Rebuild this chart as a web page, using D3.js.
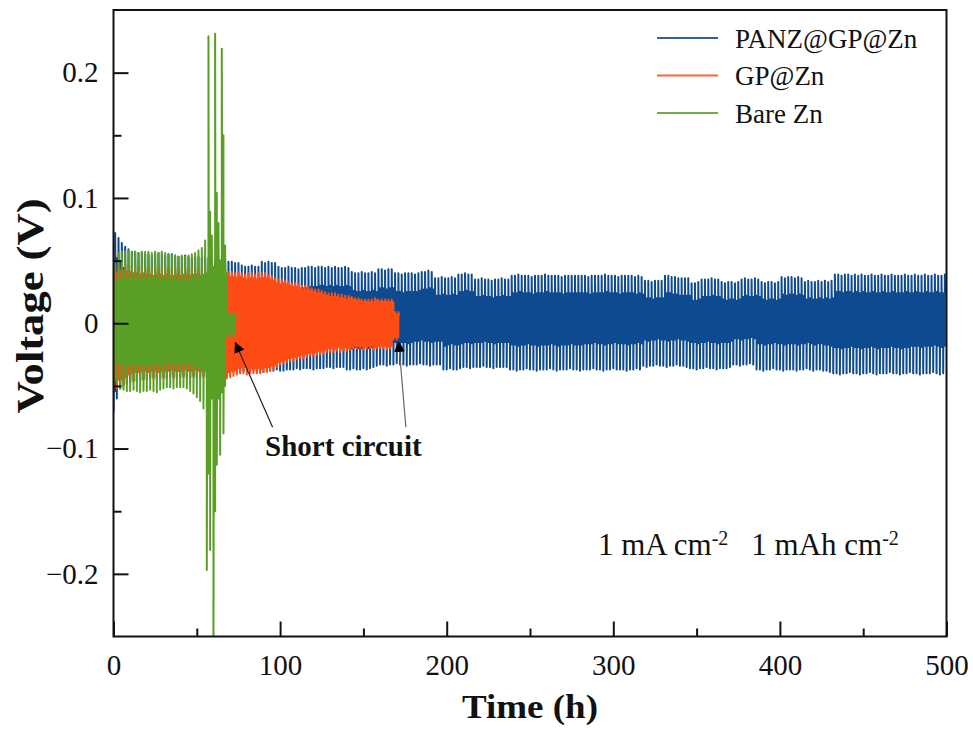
<!DOCTYPE html>
<html>
<head>
<meta charset="utf-8">
<script src="https://cdn.jsdelivr.net/npm/d3@7"></script>
<style>
  html, body { margin: 0; padding: 0; background: #fff; }
  svg { display: block; }
  svg text { font-family: "Times New Roman", "Liberation Serif", Tinos, "Nimbus Roman", "DejaVu Serif", serif; }
</style>
</head>
<body>
<svg id="chart" width="973" height="730"></svg>
<script>
// Galvanostatic cycling of symmetric Zn cells, 1 mA cm-2 / 1 mAh cm-2 (one cycle = 2 h)
const cycleHours = 2;
const seriesNames = ["PANZ@GP@Zn", "GP@Zn", "Bare Zn"];
const seriesColors = ["#0d4a8f", "#ff4c14", "#5a9f25"];
const xTicks = [0, 100, 200, 300, 400, 500];
const xMinorTicks = [50, 150, 250, 350, 450];
const yTicks = [-0.2, -0.1, 0, 0.1, 0.2];
const yMinorTicks = [-0.15, -0.05, 0.05, 0.15];

// PANZ@GP@Zn: stripping (high) and plating (low) peak voltage of every cycle, mV
const panzHigh = [
  72,68,64,61,59,57,57,56,56,55, 55,54,55,56,55,54,55,55,54,53,
  53,54,53,52,53,53,52,53,52,51, 51,50,51,50,49, 49,48,48,
  46,45,45,46,45,45, 49,48,49,48,48, 45,44,44,45,44,44,43,44,44,
  45,45,44,45,45,44,45,44,45,44,44,45,44, 41,40,40,41,40,40,41,40,
  43,43,42,43,43, 40,40,39,40,40,40,39,40, 41,41,42,41,
  36,36,37,36,36,37,36, 39,39,40,39,39, 35,35,36,35,35,34,35,35,36,35,35,
  38,38,39,38,38,38,37,38,38,38, 39,38,38,38,38,37,38,38,38,38,
  38,38,38,37,38,38,38,38,39,38, 38,38,37,38,38,38,38,37,38,37,
  34,34,33,34,34,34, 38,38,37,37,36,36,36,36, 32,32,33, 35,35,35,36,35,35,
  33,32,33,33,32,33, 35,36,35,35,36,35, 33,32,33,33,32,33,
  37,36,37,37,36,37,36, 33,34,33,33,34,33,34,33,34, 39,39,38,39,39,38,39,
  38,39,38,38,39,38,38,39,38,38, 39,38,38,38,39,38,38,39,38,38, 39,38,38,39,38,38,39
];
const panzLow = [
  -70,-60,-52,-49,-48,-47,-46,-46,-45,-45,
  -44,-44,-43,-44,-43,-43,-44,-43,-43,-42, -43,-42,-42,-43,-42,-42,-41,-42,-42,-41, -42,-41,-41,-41,-40,
  -40,-39,-39,-39,-38,-39,-39,-38,-39,-38,-39,-38,-38,-38,-37,-38,-38,-37,-37,-37,-36,-37,-36,
  -36,-36,-37,-36,-36,-36,
  -35,-35,-36,-35,-35,-35,-37,-37,-36,-37,-37,-36,-37,-36,-35,-34,
  -33,-33,-34,-33,-33,-32,-33,-33,-34,-33,-33,-33,-32,-33,-33,-34,-33,-33,-33,
  -37,-37,-36,-37,-37,-36,
  -35,-35,-36,-35,-35,-35,-34,-35,-35,-36,-35,-35,-35,-35,
  -37,-37,-38,-37,-37,-36,-37,-37,-38,-37, -37,-37,-36,-37,-38,-37,-37,-37,-36,-37,
  -37,-38,-37,-37,-37,-36,-37,-37,-38,-37, -37,-36,-37,-37,-37,-38,-37,-37,-36,-37,
  -34,-35,-34,-34,-33,-34,-34,-35,-34,-34,-33,-34,-34,-35,
  -36,-36,-37,-36,-36,-35,-36,-36,-37,-36,-36,-36,-35,
  -33,-33,-34,-33,-33,-32,-33,
  -37,-37,-38,-37,-37,-36,-37,-37,-38,-37,-37,-37,-38,-37,-37,-36,-37,-38,-37,-37,-38,-38,
  -39,-40,-40,-41,-40,-40,-39,-40,-40,-41, -40,-40,-39,-40,-41,-40,-40,-40,-39,-40,
  -40,-41,-40,-40,-39,-40,-40,-41,-40,-40, -40,-39,-40,-41,-40
];
// nucleation overshoot above the plateau, one value per 20 h block, mV
const panzSpikeHigh = [20,18,18,18,17, 16,15,15,15,14, 14,14,14,14,14, 14,14,14,14,14, 14,14,14,14,14];
const panzSpikeLow  = [16,14,14,14,15, 16,16,17,18,19, 20,20,20,20,21, 21,21,21,21,21, 21,21,21,21,22];

// GP@Zn peak voltages per cycle, mV (short circuit near 172 h)
const gpHigh = [
  46,48,48,47,47,46,46,45,46,45, 45,44,45,45,44,45,44,44,45,44,
  44,44,43,44,44,43,44,43,43,42, 42,43,42,42,
  41,41,40,41,40,39,40,40,39,40, 40,40,39,38,
  36,35,35,34,33,32,32,31,30,30,29,
  28,27,27,26,25,24,24,24,23,23,22,22,
  21,20,20,19,19,19,19,20,19,19,19,19,19,
  9,9
];
const gpLow = [
  -52,-52,-51,-50,-48,-47,-46,-46,-45,-45, -45,-44,-44,-45,-44,-44,-44,-43,-44,-44,
  -44,-43,-44,-44,-43,-44,-44,-43,-44,-44, -44,-45,-44,-45,
  -44,-43,-42,-41,-40,-40,-41,-40,-40,-40, -40,-39,-39,-38,
  -37,-35,-33,-32,-31,-30,-30,-29,-28,-28,-27,
  -26,-26,-25,-25,-24,-23,-23,-23,-22,-23,-22,-22,
  -21,-20,-20,-20,-21,-20,-20,-21,-20,-20,-20,-21,-20,
  -13,-13
];
const gpSpikeHigh = [6,6,5,4,4,3,3,2,2];
const gpSpikeLow  = [7,6,6,5,4,3,3,2,2];

// Bare Zn: peaks and plateaus per cycle, mV (voltage spikes before short circuit near 72 h)
const bareHigh = [
  48,56,57,57,58,57,57,56,57,57, 57,56,57,56,57,56,55,54,54,53,
  54,53,54,55,56,58, 60,66,229,70,231,80,219,62, 8,8,8
];
const bareHighPlateau = [
  33,35,36,36,36,36,36,35,36,36, 36,35,36,35,36,35,35,34,34,34,
  34,34,35,35,36,37, 38,40,89,45,104,50,150,40, 6,6,6
];
const bareLow = [
  -46,-48,-52,-53,-54,-54,-53,-54,-55,-54, -54,-53,-54,-55,-53,-52,-51,-51,-52,-51,
  -51,-51,-52,-54,-56,-59, -62,-68,-197,-181,-280,-113,-105,-88, -11,-11,-11
];
const bareLowPlateau = [
  -30,-31,-32,-32,-33,-33,-32,-33,-33,-33, -33,-32,-33,-33,-32,-32,-31,-31,-32,-31,
  -31,-31,-32,-33,-34,-35, -36,-38,-120,-60,-150,-60,-55,-50, -8,-8,-8
];

// Figure annotations (data coordinates: h, V)
const shortLabel = { t: 91, v: -0.106, text: "Short circuit" };
const shortArrows = [
  { from: [95.5, -0.083], to: [73.2, -0.0155], color: "#222" },
  { from: [175.5, -0.083], to: [171.2, -0.0150], color: "#666" }
];
const conditionLabel = { t: 290.8, v: -0.185 };

// ---------- layout ----------
const svg = d3.select("#chart");
const plot = { left: 113.5, right: 946.5, top: 10, bottom: 636.5 };
const x = d3.scaleLinear().domain([0, 500]).range([plot.left, plot.right]);
const y = d3.scaleLinear().domain([-0.25, 0.25]).range([plot.bottom, plot.top]);

const defs = svg.append("defs");
defs.append("clipPath").attr("id", "plotClip")
  .append("rect")
  .attr("x", plot.left).attr("y", plot.top)
  .attr("width", plot.right - plot.left).attr("height", plot.bottom - plot.top);

// Expand per-cycle values into a voltage–time trace:
// plating half (negative) followed by stripping half (positive) in each cycle.
function cycleTrace(high, low, highPlateau, lowPlateau) {
  const pts = [];
  for (let k = 0; k < high.length; k++) {
    const t0 = k * cycleHours;
    pts.push([t0, k > 0 ? highPlateau[k - 1] : 0]);
    pts.push([t0, low[k]]);
    pts.push([t0 + 0.12, lowPlateau[k]]);
    pts.push([t0 + 1, lowPlateau[k]]);
    pts.push([t0 + 1, high[k]]);
    pts.push([t0 + 1.12, highPlateau[k]]);
    pts.push([t0 + 2, highPlateau[k]]);
  }
  return pts.map(p => [p[0], p[1] / 1000]);
}
const blockPlateau = (peaks, spikes, sign) =>
  peaks.map((p, k) => p - sign * spikes[Math.floor(k / 10)]);

const traces = [
  cycleTrace(panzHigh, panzLow,
    blockPlateau(panzHigh, panzSpikeHigh, 1), blockPlateau(panzLow, panzSpikeLow, -1)),
  cycleTrace(gpHigh, gpLow,
    blockPlateau(gpHigh, gpSpikeHigh, 1), blockPlateau(gpLow, gpSpikeLow, -1)),
  cycleTrace(bareHigh, bareLow, bareHighPlateau, bareLowPlateau)
];

const line = d3.line().x(d => x(d[0])).y(d => y(d[1]));
const traceGroup = svg.append("g").attr("clip-path", "url(#plotClip)");
traces.forEach((pts, i) => {
  traceGroup.append("path")
    .attr("d", line(pts))
    .attr("fill", "none")
    .attr("stroke", seriesColors[i])
    .attr("stroke-width", 2)
    .attr("stroke-linejoin", "round");
});

// ---------- axes ----------
const fmtY = d => d === 0 ? "0" : (d < 0 ? "\u2212" : "") + Math.abs(d).toFixed(1);
const axisFont = g => {
  g.attr("font-family", null);
  g.selectAll("text").attr("font-size", 29).attr("fill", "#111");
};

const xAxis = svg.append("g").attr("transform", `translate(0,${plot.bottom})`)
  .call(d3.axisBottom(x).tickValues(xTicks).tickFormat(d3.format("d"))
    .tickSize(-15).tickPadding(18));
xAxis.call(axisFont);
svg.append("g").attr("transform", `translate(0,${plot.bottom})`)
  .call(d3.axisBottom(x).tickValues(xMinorTicks).tickFormat("").tickSize(-8));

const yAxis = svg.append("g").attr("transform", `translate(${plot.left},0)`)
  .call(d3.axisLeft(y).tickValues(yTicks).tickFormat(fmtY).tickSize(-15).tickPadding(15));
yAxis.call(axisFont);
svg.append("g").attr("transform", `translate(${plot.left},0)`)
  .call(d3.axisLeft(y).tickValues(yMinorTicks).tickFormat("").tickSize(-8));

svg.selectAll(".domain").remove();
svg.selectAll(".tick line").attr("stroke", "#111").attr("stroke-width", 2);

// frame
svg.append("rect")
  .attr("x", plot.left).attr("y", plot.top)
  .attr("width", plot.right - plot.left).attr("height", plot.bottom - plot.top)
  .attr("fill", "none").attr("stroke", "#111").attr("stroke-width", 2);

// axis titles
svg.append("text")
  .attr("x", 530).attr("y", 718)
  .attr("text-anchor", "middle").attr("font-weight", "bold").attr("font-size", 34)
  .attr("textLength", 136).attr("lengthAdjust", "spacingAndGlyphs")
  .attr("fill", "#111").text("Time (h)");
svg.append("text")
  .attr("transform", "translate(43,306) rotate(-90)")
  .attr("text-anchor", "middle").attr("font-weight", "bold").attr("font-size", 37)
  .attr("textLength", 215).attr("lengthAdjust", "spacingAndGlyphs")
  .attr("fill", "#111").text("Voltage (V)");

// ---------- legend ----------
const legend = svg.append("g");
seriesNames.forEach((name, i) => {
  const ly = 38 + i * 37.5;
  legend.append("line")
    .attr("x1", 657).attr("x2", 718).attr("y1", ly).attr("y2", ly)
    .attr("stroke", seriesColors[i]).attr("stroke-width", 2).attr("opacity", 0.85);
  legend.append("text")
    .attr("x", 735).attr("y", ly + 9.5)
    .attr("font-size", 27).attr("fill", "#111").text(name);
});

// ---------- annotations ----------
shortArrows.forEach((a, i) => {
  defs.append("marker").attr("id", "arrowHead" + i)
    .attr("viewBox", "0 0 10 10").attr("refX", 9).attr("refY", 5)
    .attr("markerWidth", 11).attr("markerHeight", 11)
    .attr("markerUnits", "userSpaceOnUse").attr("orient", "auto")
    .append("path").attr("d", "M0,0 L10,5 L0,10 Z").attr("fill", "#000");
  svg.append("line")
    .attr("x1", x(a.from[0])).attr("y1", y(a.from[1]))
    .attr("x2", x(a.to[0])).attr("y2", y(a.to[1]))
    .attr("stroke", a.color).attr("stroke-width", 1.2)
    .attr("marker-end", `url(#arrowHead${i})`);
});
svg.append("text")
  .attr("x", x(shortLabel.t)).attr("y", y(shortLabel.v))
  .attr("font-weight", "bold").attr("font-size", 29).attr("fill", "#111")
  .text(shortLabel.text);

const cond = svg.append("text")
  .attr("x", x(conditionLabel.t)).attr("y", y(conditionLabel.v))
  .attr("font-size", 31).attr("fill", "#111");
cond.append("tspan").text("1 mA cm");
cond.append("tspan").attr("dy", -10).attr("font-size", 20).text("-2");
cond.append("tspan").attr("dy", 10).attr("dx", 23).text("1 mAh cm");
cond.append("tspan").attr("dy", -10).attr("font-size", 20).text("-2");
</script>
</body>
</html>
